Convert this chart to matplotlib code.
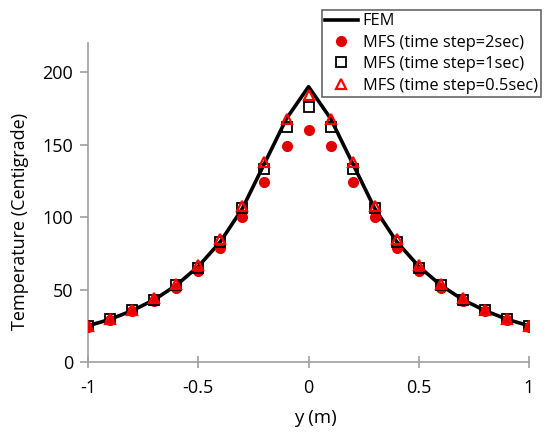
import matplotlib
matplotlib.use('Agg')
import matplotlib.pyplot as plt

plt.rcParams['font.family'] = ['Open Sans', 'DejaVu Sans']

# posicoes ao longo de y (m)
y = [-1.0, -0.9, -0.8, -0.7, -0.6, -0.5, -0.4, -0.3, -0.2, -0.1, 0.0,
     0.1, 0.2, 0.3, 0.4, 0.5, 0.6, 0.7, 0.8, 0.9, 1.0]

# temperaturas
fem = [25, 29.5, 35.5, 43, 53, 66, 83, 106, 137, 168, 190,
       168, 137, 106, 83, 66, 53, 43, 35.5, 29.5, 25]
mfs_2s = [24, 29, 35, 42, 51, 63, 79, 100, 124, 149, 160,
          149, 124, 100, 79, 63, 51, 42, 35, 29, 24]
mfs_1s = [25, 30, 36, 43, 53, 65, 83, 106, 133, 162, 176,
          162, 133, 106, 83, 65, 53, 43, 36, 30, 25]
mfs_05s = [25, 30, 36, 44, 54, 67, 85, 108, 138, 168, 184,
           168, 138, 108, 85, 67, 54, 44, 36, 30, 25]

fig = plt.figure(figsize=(5.51, 4.32), dpi=100)
ax = fig.add_axes([0.16, 0.162, 0.8, 0.738])

ax.plot(y, fem, color='black', lw=2.6, label='FEM', zorder=2)
ax.plot(y, mfs_2s, 'o', color='#e00000', ms=7, mec='#e00000', ls='none',
        label='MFS (time step=2sec)', zorder=3)
ax.plot(y, mfs_1s, 's', mfc='none', mec='black', mew=1.3, ms=7.5, ls='none',
        label='MFS (time step=1sec)', zorder=4)
ax.plot(y, mfs_05s, '^', mfc='none', mec='#ff0000', mew=1.6, ms=7.5, ls='none',
        label='MFS (time step=0.5sec)', zorder=5)

ax.set_xlim(-1, 1)
ax.set_ylim(0, 220)
ax.set_xticks([-1, -0.5, 0, 0.5, 1])
ax.set_xticklabels(['-1', '-0.5', '0', '0.5', '1'])
ax.set_yticks([0, 50, 100, 150, 200])

for s in ['top', 'right']:
    ax.spines[s].set_visible(False)
for s in ['left', 'bottom']:
    ax.spines[s].set_color('#a0a0a0')
    ax.spines[s].set_linewidth(1.2)
ax.tick_params(axis='y', direction='out', length=6, color='#a0a0a0', labelsize=13, width=1.2, pad=5)
ax.tick_params(axis='x', direction='inout', length=8, color='#a0a0a0', labelsize=13, width=1.2, pad=8)
ax.set_xlabel('y (m)', fontsize=13.5)
ax.set_ylabel('Temperature (Centigrade)', fontsize=13)
ax.xaxis.set_label_coords(0.515, -0.175, transform=ax.transAxes)
ax.yaxis.set_label_coords(-0.154, 0.442, transform=ax.transAxes)
ax.xaxis.label.set_va('center')
ax.yaxis.label.set_va('center')

leg = ax.legend(loc='upper right', bbox_to_anchor=(1.027, 1.104), borderaxespad=0,
                fontsize=11.8, frameon=True, fancybox=False, edgecolor='#404040',
                handlelength=2.0, handletextpad=0.3, borderpad=0.2, labelspacing=0.33)
leg.get_frame().set_linewidth(1.2)

fig.savefig('out.png', dpi=100)
